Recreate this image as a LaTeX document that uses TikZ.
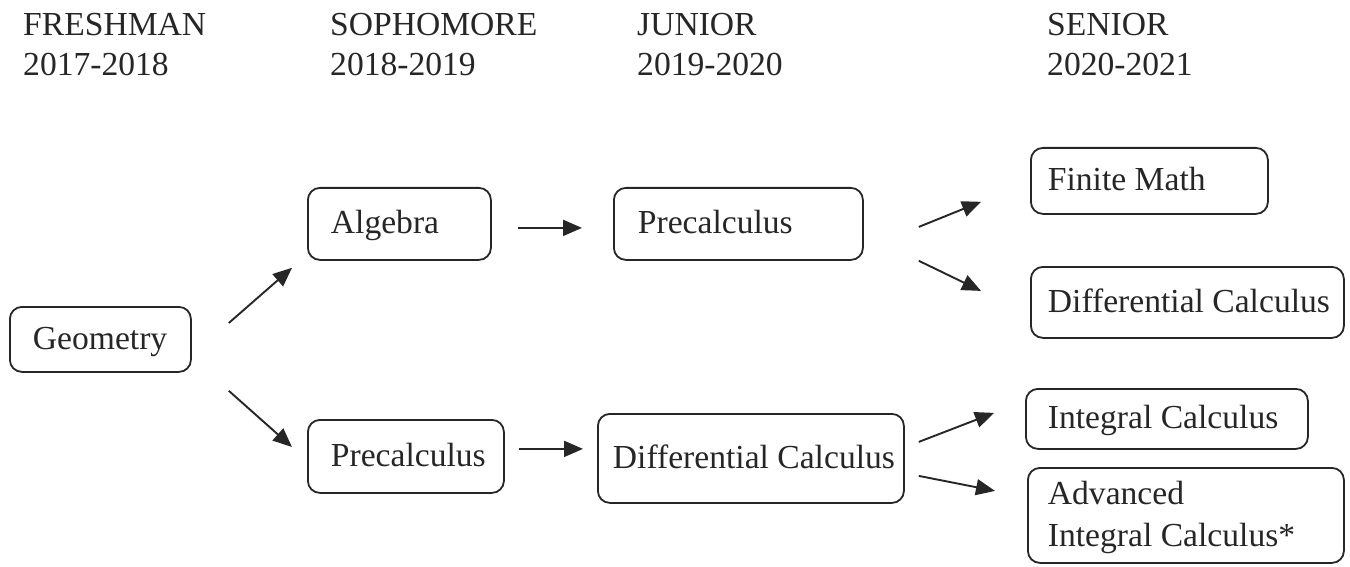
\documentclass[tikz,border=0pt]{standalone}
\usepackage{fontspec}
\setmainfont{Liberation Serif}
\usetikzlibrary{arrows.meta,calc}
\definecolor{ink}{HTML}{262626}
\newcommand{\bstrut}{\rule[-10pt]{0pt}{40pt}}
\newcommand{\lbl}[3]{\makebox[#1][l]{\hspace*{#2}\bstrut #3}}
\begin{document}
\begin{tikzpicture}[x=1pt,y=-1pt,
  every node/.style={font=\fontsize{33.6}{40}\selectfont, text=ink},
  box/.style={draw=ink, line width=1.8pt, rounded corners=12pt, anchor=north west,
    inner sep=0pt},
  head/.style={anchor=north west, inner sep=0pt, align=left},
  arr/.style={draw=ink, line width=1.9pt, -{Triangle[length=19pt,width=16pt]}}]
\useasboundingbox (0,0) rectangle (1350,567);
% headers
\node[head] (h1) at (23,7) {\strut FRESHMAN\\\strut 2017-2018};
\node[head] (h2) at (330,7) {\strut SOPHOMORE\\\strut 2018-2019};
\node[head] (h3) at (637,7) {\strut JUNIOR\\\strut 2019-2020};
\node[head] (h4) at (1047,7) {\strut SENIOR\\\strut 2020-2021};
% boxes
\node[box, minimum height=65pt] (geo) at (9,306) {\lbl{181pt}{23pt}{Geometry}};
\node[box, minimum height=72pt] (alg) at (307,187) {\lbl{183pt}{23pt}{Algebra}};
\node[box, minimum height=73pt] (pre1) at (307,419) {\lbl{196pt}{23pt}{Precalculus}};
\node[box, minimum height=72pt] (pre2) at (613,187) {\lbl{249pt}{24pt}{Precalculus}};
\node[box, minimum height=89pt] (dc1) at (597,413) {\lbl{306pt}{15pt}{Differential Calculus}};
\node[box, minimum height=66pt] (fm) at (1030,147) {\lbl{237pt}{17pt}{Finite Math}};
\node[box, minimum height=71pt] (dc2) at (1030,266) {\lbl{313pt}{17pt}{Differential Calculus}};
\node[box, minimum height=60pt] (ic) at (1025,388) {\lbl{282pt}{22pt}{Integral Calculus}};
\node[box, minimum height=95pt] (adv) at (1027,467) {\shortstack[l]{\lbl{316pt}{20pt}{Advanced}\\[-1pt]\lbl{316pt}{20pt}{Integral Calculus*}}};
% arrows
\draw[arr] ($(geo.north east)+(37,17)$) -- ($(alg.south west)+(-15,7)$);
\draw[arr] ($(geo.south east)+(37,18)$) -- ($(pre1.north west)+(-15,28)$);
\draw[arr] ($(alg.east)+(26,4)$) -- ($(pre2.west)+(-31,4)$);
\draw[arr] ($(pre1.east)+(14,-7.5)$) -- ($(dc1.west)+(-14,-9.5)$);
\draw[arr] ($(pre2.east)+(55,3)$) -- ($(fm.south west)+(-49,-13)$);
\draw[arr] ($(pre2.south east)+(55,0)$) -- ($(dc2.west)+(-49,-11.5)$);
\draw[arr] ($(dc1.east)+(14,-16.5)$) -- ($(ic.west)+(-31,-6)$);
\draw[arr] ($(dc1.east)+(14,17.5)$) -- ($(adv.west)+(-32,-24.5)$);
\end{tikzpicture}
\end{document}
